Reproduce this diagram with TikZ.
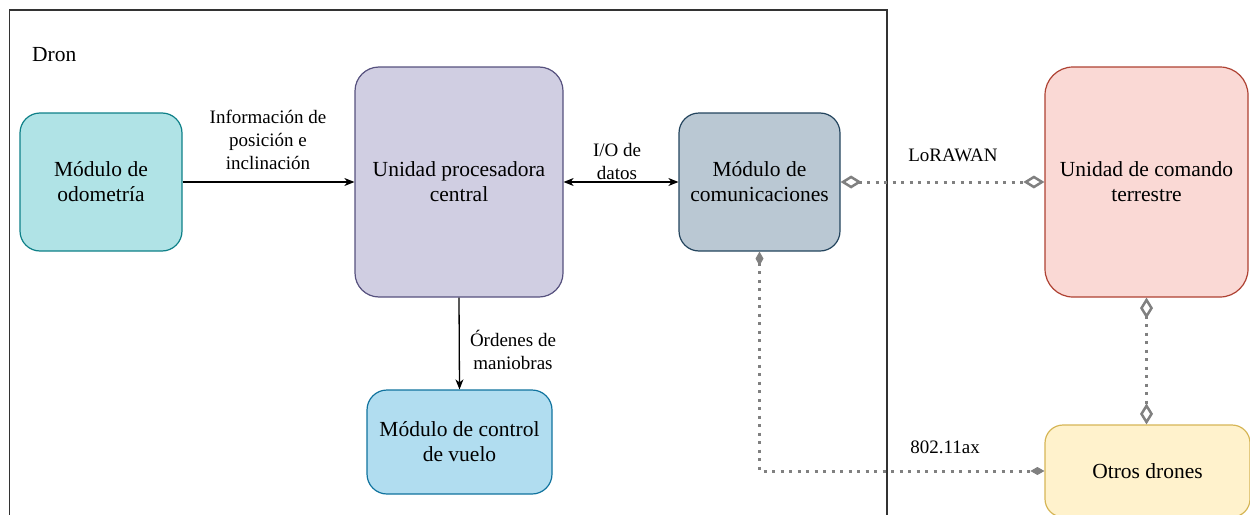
\documentclass[tikz,border=0pt]{standalone}
\usepackage{fontspec}
\setmainfont{Liberation Serif}
\usetikzlibrary{arrows.meta}
\definecolor{tealF}{HTML}{B0E3E6}\definecolor{tealD}{HTML}{0E8088}
\definecolor{purF}{HTML}{D0CEE2}\definecolor{purD}{HTML}{56517E}
\definecolor{bluF}{HTML}{B1DDF0}\definecolor{bluD}{HTML}{10739E}
\definecolor{gryF}{HTML}{BAC8D3}\definecolor{gryD}{HTML}{23445D}
\definecolor{redF}{HTML}{FAD9D5}\definecolor{redD}{HTML}{AE4132}
\definecolor{yelF}{HTML}{FFF2CC}\definecolor{yelD}{HTML}{D6B656}
\definecolor{frameC}{HTML}{333333}
\definecolor{linkC}{HTML}{808080}
\tikzset{
  blk/.style={rectangle, rounded corners=20pt, line width=1.2pt, align=center,
    font=\fontsize{21.5}{25}\selectfont, inner sep=0pt},
  lbl/.style={align=center, font=\fontsize{19}{23}\selectfont, inner sep=0pt},
  arr/.style={line width=1.3pt, black, -{Stealth[length=10pt,width=8pt,inset=3pt]}},
  darr/.style={line width=1.3pt, black, {Stealth[length=10pt,width=8pt,inset=3pt]}-{Stealth[length=10pt,width=8pt,inset=3pt]}},
  dotc/.style={line width=3pt, linkC, dash pattern=on 3pt off 5.5pt},
  odia/.style={dotc, {Diamond[length=21pt,width=13pt,line width=2.5pt,fill=white]}-{Diamond[length=21pt,width=13pt,line width=2.5pt,fill=white]}},
  fdia/.style={dotc, {Diamond[length=14pt,width=8pt,line width=1pt]}-{Diamond[length=14pt,width=8pt,line width=1pt]}}
}
\begin{document}
\begin{tikzpicture}[x=1pt,y=-1pt]
\useasboundingbox (0,0) rectangle (1250,514);
\clip (0,0) rectangle (1250,514);
% frame
\draw[frameC, line width=1.3pt] (9.5,10) rectangle (887,540);
\node[lbl, anchor=west, font=\fontsize{21.5}{25}\selectfont] (dron) at (32,55) {Dron};
% boxes
\node[blk, fill=tealF, draw=tealD, minimum width=162pt, minimum height=138pt] (odo) at (101,182) {Módulo de\\odometría};
\node[blk, fill=purF, draw=purD, minimum width=208pt, minimum height=230pt, rounded corners=24pt] (cpu) at (459,182) {Unidad procesadora\\central};
\node[blk, fill=bluF, draw=bluD, minimum width=185pt, minimum height=104pt] (fc) at (459.5,442) {Módulo de control\\de vuelo};
\node[blk, fill=gryF, draw=gryD, minimum width=161pt, minimum height=138pt] (com) at (759.5,182) {Módulo de\\comunicaciones};
\node[blk, fill=redF, draw=redD, minimum width=203pt, minimum height=230pt, rounded corners=28pt] (gnd) at (1146.5,182) {Unidad de comando\\terrestre};
\node[blk, fill=yelF, draw=yelD, minimum width=205pt, minimum height=92pt, rounded corners=18pt] (oth) at (1147.5,471) {Otros drones};
% connectors
\draw[arr] (odo.east) -- (cpu.west);
\node[lbl] (l1) at (268,140) {Información de\\posición e\\inclinación};
\draw[darr] (cpu.east) -- (com.west);
\node[lbl] (l2) at (617,161) {I/O de\\datos};
\draw[arr] (cpu.south) -- (fc.north);
\node[lbl] (l3) at (513,350) {Órdenes de\\maniobras};
\draw[odia] (com.east) -- (gnd.west);
\node[lbl] (l4) at (953,155) {LoRAWAN};
\draw[odia] (gnd.south) -- (gnd.south |- oth.north);
\draw[fdia] (com.south) |- (oth.west);
\node[lbl] (l5) at (945,447) {802.11ax};
\end{tikzpicture}
\end{document}
